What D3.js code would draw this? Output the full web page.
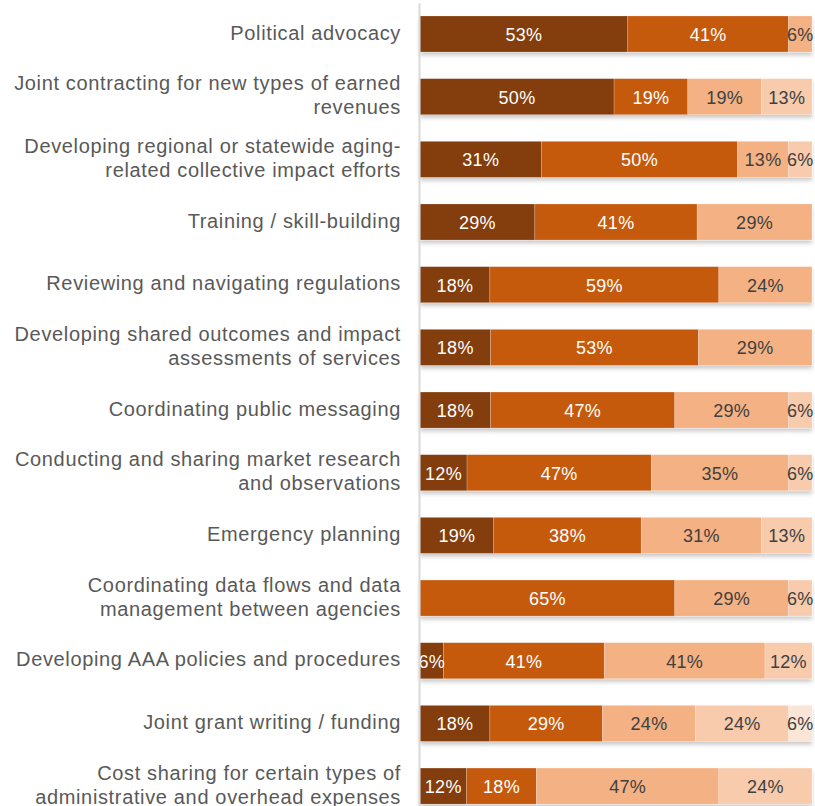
<!DOCTYPE html>
<html>
<head>
<meta charset="utf-8">
<script src="https://cdn.jsdelivr.net/npm/d3@7"></script>
<style>
  html, body { margin: 0; padding: 0; background: #fff; overflow: hidden; }
  svg { display: block; }
</style>
</head>
<body>
<svg id="chart" width="815" height="806"></svg>
<script>
// Activity categories (line breaks mark where each label wraps)
const categories = [
  "Political advocacy",
  "Joint contracting for new types of earned\nrevenues",
  "Developing regional or statewide aging-\nrelated collective impact efforts",
  "Training / skill-building",
  "Reviewing and navigating regulations",
  "Developing shared outcomes and impact\nassessments of services",
  "Coordinating public messaging",
  "Conducting and sharing market research\nand observations",
  "Emergency planning",
  "Coordinating data flows and data\nmanagement between agencies",
  "Developing AAA policies and procedures",
  "Joint grant writing / funding",
  "Cost sharing for certain types of\nadministrative and overhead expenses"
];

// Response levels, darkest first
const levels = ["l1", "l2", "l3", "l4", "l5"];

// Percent of respondents per level, one entry per category
const level1 = [53, 50, 31, 29, 18, 18, 18, 12, 19, 0, 6, 18, 12];
const level2 = [41, 19, 50, 41, 59, 53, 47, 47, 38, 65, 41, 29, 18];
const level3 = [6, 19, 13, 29, 24, 29, 29, 35, 31, 29, 41, 24, 47];
const level4 = [0, 13, 6, 0, 0, 0, 6, 6, 13, 6, 12, 24, 24];
const level5 = [0, 0, 0, 0, 0, 0, 0, 0, 0, 0, 0, 6, 0];

const colors = ["#843c0c", "#c55a11", "#f4b183", "#f8cbad", "#fbe5d6"];
const labelColors = ["#ffffff", "#ffffff", "#404040", "#404040", "#404040"];

const rows = categories.map((c, i) => ({
  category: c,
  l1: level1[i], l2: level2[i], l3: level3[i], l4: level4[i], l5: level5[i]
}));

const svg = d3.select("#chart");

const x = d3.scaleLinear().domain([0, 1]).range([420, 812]);
const y = d3.scaleBand()
  .domain(categories)
  .range([2.67, 817.4])
  .paddingInner(0.425)
  .paddingOuter(0.2125);

const series = d3.stack()
  .keys(levels)
  .offset(d3.stackOffsetExpand)(rows);

// soft shadow beneath the bars
const defs = svg.append("defs");
const f = defs.append("filter").attr("id", "shadow")
  .attr("x", "-5%").attr("y", "-20%").attr("width", "110%").attr("height", "160%");
f.append("feDropShadow")
  .attr("dx", 0).attr("dy", 3).attr("stdDeviation", 2.2)
  .attr("flood-color", "#000").attr("flood-opacity", 0.22);

const bars = svg.append("g").attr("filter", "url(#shadow)");
bars.selectAll("g")
  .data(series)
  .join("g")
  .attr("fill", (d, i) => colors[i])
  .selectAll("rect")
  .data(d => d.filter(s => s.data[d.key] > 0))
  .join("rect")
  .attr("x", d => x(d[0]))
  .attr("y", d => y(d.data.category))
  .attr("width", d => x(d[1]) - x(d[0]))
  .attr("height", y.bandwidth())
  .attr("stroke", "#ffffff")
  .attr("stroke-opacity", 0.35)
  .attr("stroke-width", 0.6);

// value labels centred in each segment
const labels = svg.append("g")
  .attr("font-family", "Arial, 'Liberation Sans', sans-serif")
  .attr("font-size", 18)
  .attr("letter-spacing", "0.3px")
  .attr("text-anchor", "middle");
series.forEach((s, i) => {
  labels.selectAll(null)
    .data(s.filter(d => d.data[s.key] > 0))
    .join("text")
    .attr("x", d => (x(d[0]) + x(d[1])) / 2)
    .attr("y", d => y(d.data.category) + y.bandwidth() / 2 + 7)
    .attr("fill", labelColors[i])
    .text(d => d.data[s.key] + "%");
});

// category axis
const axis = svg.append("g")
  .attr("transform", "translate(419,0)")
  .call(d3.axisLeft(y).tickSize(0).tickPadding(18));
axis.select(".domain").attr("stroke", "#d9d9d9").attr("stroke-width", 2);
axis.selectAll(".tick text")
  .attr("font-family", "Arial, 'Liberation Sans', sans-serif")
  .attr("font-size", 20)
  .attr("letter-spacing", "0.65px")
  .attr("fill", "#595959")
  .attr("dy", null)
  .each(function(d) {
    const lines = d.split("\n");
    const t = d3.select(this).text(null);
    const lh = 24;
    const y0 = -(lines.length - 1) * lh / 2 + 5.5;
    lines.forEach((ln, k) => {
      t.append("tspan").attr("x", -18).attr("y", y0 + k * lh).text(ln);
    });
  });
</script>
</body>
</html>
